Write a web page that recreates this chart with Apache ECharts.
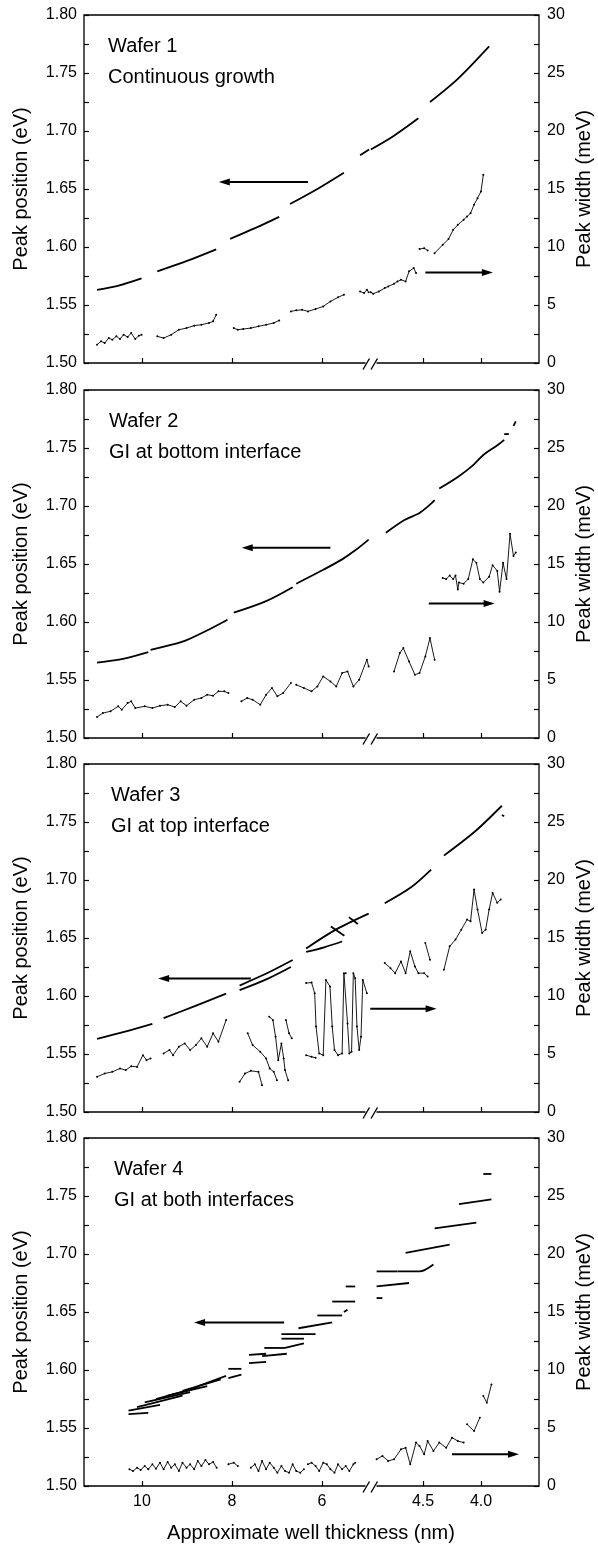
<!DOCTYPE html>
<html>
<head>
<meta charset="utf-8">
<script src="https://cdn.jsdelivr.net/npm/echarts@6.0.0/dist/echarts.min.js"></script>
<style>
  html, body { margin: 0; padding: 0; background: #fff; }
  #chart { width: 598px; height: 1545px; }
</style>
</head>
<body>
<div id="chart"></div>
<script>
// tick labels
const xTicksLeft = [10, 8, 6]
const xTicksRight = [4.5, 4.0]
const eVLabels = [1.5, 1.55, 1.6, 1.65, 1.7, 1.75, 1.8]
const meVLabels = [0, 5, 10, 15, 20, 25, 30]

const waferNames = ['Wafer 1', 'Wafer 2', 'Wafer 3', 'Wafer 4']
const waferNotes = ['Continuous growth', 'GI at bottom interface', 'GI at top interface', 'GI at both interfaces']

// segments of [thickness nm, peak position eV]
const wafer1Pos = [
  [[11.00, 1.563], [10.50, 1.567], [10.01, 1.573]],
  [[9.66, 1.579], [9.00, 1.588], [8.35, 1.598]],
  [[8.04, 1.607], [7.50, 1.616], [6.95, 1.626]],
  [[6.71, 1.637], [6.10, 1.650], [5.51, 1.664]],
  [[5.15, 1.679], [4.95, 1.684]],
  [[4.95, 1.684], [4.75, 1.696], [4.54, 1.711]],
  [[4.44, 1.725], [4.20, 1.745], [3.93, 1.773]]
]
// segments of [thickness nm, peak width meV]
const wafer1Width = [
  [[11.00, 1.58], [10.91, 1.87], [10.83, 1.72], [10.74, 2.15], [10.66, 2.01], [10.57, 2.30], [10.49, 2.07], [10.41, 2.44], [10.32, 2.24], [10.24, 2.58], [10.15, 2.07], [10.07, 2.35], [10.01, 2.44]],
  [[9.66, 2.30], [9.52, 2.15], [9.35, 2.44], [9.18, 2.87], [9.01, 3.01], [8.84, 3.22], [8.68, 3.30], [8.51, 3.45], [8.42, 3.59], [8.35, 4.16]],
  [[7.96, 3.01], [7.87, 2.87], [7.75, 2.93], [7.58, 3.01], [7.41, 3.16], [7.24, 3.30], [7.07, 3.45], [6.95, 3.67]],
  [[6.69, 4.45], [6.57, 4.54], [6.44, 4.59], [6.31, 4.45], [6.14, 4.65], [5.97, 4.88], [5.81, 5.31], [5.64, 5.66], [5.51, 5.89]],
  [[5.15, 6.17], [5.06, 6.03], [5.00, 6.32], [4.96, 6.10]],
  [[4.95, 6.10], [4.93, 5.97], [4.88, 6.17], [4.83, 6.46], [4.80, 6.60], [4.75, 6.83], [4.72, 7.03], [4.69, 7.18], [4.65, 7.03], [4.62, 7.90], [4.58, 8.18], [4.56, 7.75]],
  [[4.53, 9.82], [4.49, 9.90], [4.46, 9.70]],
  [[4.40, 9.47], [4.33, 10.19], [4.28, 10.68], [4.24, 11.48], [4.20, 11.91], [4.15, 12.35], [4.12, 12.63], [4.09, 12.92], [4.06, 13.64], [4.03, 14.21], [4.00, 14.79], [3.98, 16.22]]
]

const wafer2Pos = [
  [[11.00, 1.565], [10.45, 1.568], [9.86, 1.574]],
  [[9.81, 1.576], [9.10, 1.583], [8.59, 1.592], [8.10, 1.602]],
  [[7.96, 1.608], [7.24, 1.618], [6.65, 1.630]],
  [[6.57, 1.633], [5.97, 1.645], [5.55, 1.654], [5.25, 1.662], [4.96, 1.671]],
  [[4.82, 1.677], [4.66, 1.688], [4.53, 1.694], [4.43, 1.702], [4.40, 1.705]],
  [[4.36, 1.715], [4.20, 1.725], [4.07, 1.735], [3.98, 1.744], [3.85, 1.753], [3.80, 1.757]],
  [[3.80, 1.762], [3.76, 1.762]],
  [[3.72, 1.769], [3.70, 1.773]]
]
const wafer2Width = [
  [[11.00, 1.81], [10.87, 2.15], [10.70, 2.30], [10.53, 2.73], [10.45, 2.44], [10.32, 3.01], [10.24, 3.16], [10.15, 2.58], [9.94, 2.73], [9.77, 2.58], [9.60, 2.78], [9.43, 2.87], [9.27, 2.67], [9.14, 3.16], [9.01, 2.78], [8.84, 3.30], [8.68, 3.45], [8.55, 3.73], [8.42, 3.64], [8.30, 4.02], [8.17, 4.02], [8.08, 3.88]],
  [[7.79, 3.16], [7.66, 3.45], [7.54, 3.30], [7.37, 2.87], [7.24, 3.73], [7.11, 4.31], [6.99, 3.59], [6.86, 3.88], [6.69, 4.74]],
  [[6.57, 4.59], [6.40, 4.31], [6.23, 4.02], [6.10, 4.45], [5.97, 5.31], [5.81, 4.88], [5.68, 4.45], [5.55, 5.60], [5.43, 5.74], [5.30, 4.45], [5.17, 5.02], [5.00, 6.75], [4.96, 6.17]],
  [[4.75, 5.74], [4.70, 7.32], [4.67, 7.75], [4.62, 6.60], [4.57, 5.45], [4.53, 5.60], [4.48, 7.03], [4.44, 8.61], [4.40, 6.75]],
  [[4.33, 13.8], [4.30, 13.7], [4.27, 14.0], [4.24, 13.7], [4.22, 14.0], [4.20, 12.8], [4.19, 13.4], [4.15, 13.3], [4.11, 13.7], [4.07, 15.4], [4.04, 15.1], [4.01, 13.7], [3.98, 13.4], [3.93, 13.9], [3.90, 14.9], [3.86, 14.4], [3.84, 12.6], [3.81, 15.1], [3.78, 13.7], [3.75, 17.6], [3.72, 15.7], [3.70, 16.0]]
]

const wafer3Pos = [
  [[11.00, 1.563], [10.40, 1.569], [9.77, 1.576]],
  [[9.52, 1.581], [8.84, 1.591], [8.13, 1.602]],
  [[7.83, 1.609], [7.20, 1.620], [6.65, 1.631]],
  [[7.83, 1.605], [7.20, 1.615], [6.69, 1.625]],
  [[6.35, 1.641], [5.70, 1.657], [4.96, 1.671]],
  [[6.35, 1.638], [5.95, 1.642], [5.55, 1.647]],
  [[5.80, 1.660], [5.50, 1.652]],
  [[5.40, 1.668], [5.20, 1.662]],
  [[4.83, 1.680], [4.60, 1.694], [4.43, 1.709]],
  [[4.32, 1.721], [4.05, 1.742], [3.82, 1.764]],
  [[3.82, 1.756], [3.80, 1.755]]
]
const wafer3Width = [
  [[11.00, 3.03], [10.83, 3.32], [10.66, 3.46], [10.49, 3.75], [10.36, 3.61], [10.24, 3.95], [10.11, 3.89], [9.98, 4.90], [9.90, 4.47], [9.81, 4.62]],
  [[9.52, 5.05], [9.39, 5.34], [9.31, 4.90], [9.18, 5.63], [9.05, 5.91], [8.93, 5.34], [8.80, 5.77], [8.68, 6.35], [8.55, 5.63], [8.42, 6.78], [8.30, 6.06], [8.13, 7.93]],
  [[7.83, 2.60], [7.71, 3.32], [7.58, 3.55], [7.41, 3.46], [7.33, 2.31]],
  [[7.65, 6.78], [7.54, 5.77], [7.37, 5.19], [7.24, 4.62], [7.16, 3.75], [7.07, 3.46], [7.00, 2.74]],
  [[7.17, 8.22], [7.09, 7.93], [7.03, 6.49], [6.97, 4.47], [6.90, 5.91], [6.85, 4.62], [6.82, 3.61], [6.75, 2.74]],
  [[6.80, 7.93], [6.73, 6.78], [6.67, 6.35]],
  [[6.35, 4.90], [6.23, 4.76], [6.14, 4.67]],
  [[6.35, 11.11], [6.23, 11.16], [6.16, 10.24], [6.13, 7.36], [6.06, 5.05], [5.97, 4.90], [5.91, 11.39], [5.82, 10.82], [5.77, 7.36], [5.72, 5.34], [5.64, 4.90], [5.55, 5.05], [5.51, 11.97], [5.47, 11.97], [5.43, 7.64], [5.39, 5.05], [5.34, 5.19], [5.30, 11.97], [5.26, 11.54], [5.22, 7.36], [5.17, 5.34], [5.13, 6.49], [5.09, 11.39], [5.00, 10.24]],
  [[4.83, 12.84], [4.78, 12.40], [4.74, 11.97], [4.69, 12.98], [4.65, 11.97], [4.61, 13.85], [4.57, 12.55], [4.54, 11.97], [4.49, 11.97], [4.46, 11.68]],
  [[4.48, 14.57], [4.44, 13.13]],
  [[4.32, 12.26], [4.27, 14.28], [4.22, 14.86], [4.17, 15.72], [4.12, 16.59], [4.09, 16.44], [4.06, 19.18], [4.03, 17.45], [3.99, 15.43], [3.96, 15.72], [3.93, 17.45], [3.90, 18.89], [3.86, 18.03], [3.83, 18.32]]
]

const wafer4Pos = [
  [[10.30, 1.562], [9.86, 1.563]],
  [[10.30, 1.565], [9.60, 1.570]],
  [[10.11, 1.568], [9.10, 1.578]],
  [[9.94, 1.572], [8.93, 1.581]],
  [[9.69, 1.575], [8.76, 1.585]],
  [[9.43, 1.578], [8.55, 1.586]],
  [[9.10, 1.582], [8.25, 1.592]],
  [[8.76, 1.586], [8.13, 1.595]],
  [[8.08, 1.601], [7.79, 1.601]],
  [[8.08, 1.593], [7.79, 1.596]],
  [[7.62, 1.613], [7.24, 1.614]],
  [[7.62, 1.606], [7.24, 1.607]],
  [[7.33, 1.612], [6.78, 1.614]],
  [[7.28, 1.619], [6.82, 1.619]],
  [[6.82, 1.619], [6.40, 1.623]],
  [[6.90, 1.627], [6.40, 1.627]],
  [[6.90, 1.631], [6.14, 1.631]],
  [[6.52, 1.636], [5.77, 1.641]],
  [[6.10, 1.647], [5.55, 1.647]],
  [[5.51, 1.650], [5.43, 1.652]],
  [[5.77, 1.659], [5.26, 1.659]],
  [[5.47, 1.672], [5.26, 1.672]],
  [[4.90, 1.662], [4.85, 1.662]],
  [[4.90, 1.672], [4.62, 1.675]],
  [[4.90, 1.685], [4.72, 1.685]],
  [[4.72, 1.685], [4.53, 1.685], [4.41, 1.691]],
  [[4.65, 1.701], [4.27, 1.708]],
  [[4.40, 1.722], [4.04, 1.727]],
  [[4.19, 1.743], [3.91, 1.747]],
  [[3.98, 1.769], [3.91, 1.769]]
]
const wafer4Width = [
  [[10.28, 1.44], [10.20, 1.29], [10.11, 1.58], [10.03, 1.38], [9.94, 1.72], [9.86, 1.44], [9.77, 1.87], [9.69, 1.49], [9.60, 2.01], [9.52, 1.44], [9.43, 2.07], [9.35, 1.58], [9.27, 1.87], [9.18, 1.29], [9.10, 2.01], [9.01, 1.58], [8.93, 1.87], [8.84, 1.44], [8.76, 2.16], [8.68, 1.72], [8.59, 2.24], [8.51, 1.87], [8.42, 2.07], [8.34, 1.58]],
  [[8.08, 1.87], [7.96, 2.01], [7.87, 1.72]],
  [[7.58, 1.58], [7.49, 1.87], [7.41, 1.29], [7.33, 2.16], [7.24, 1.44], [7.16, 2.01], [7.07, 1.58], [6.99, 1.15], [6.90, 1.72], [6.82, 1.29], [6.73, 1.15], [6.65, 1.87], [6.57, 1.29], [6.48, 1.15], [6.40, 1.44]],
  [[6.31, 1.87], [6.23, 2.01], [6.14, 1.72], [6.06, 1.29], [5.97, 2.01], [5.89, 1.87], [5.81, 1.44], [5.72, 1.15], [5.64, 1.87], [5.55, 1.44], [5.47, 1.72], [5.39, 1.29], [5.30, 1.87], [5.26, 2.01]],
  [[4.90, 2.30], [4.85, 2.59], [4.80, 2.16], [4.75, 2.30], [4.69, 3.16], [4.65, 3.30], [4.61, 1.87], [4.56, 3.74], [4.53, 3.45], [4.49, 2.73], [4.46, 3.88], [4.41, 3.02], [4.36, 3.74], [4.30, 3.30], [4.25, 4.17], [4.20, 3.88], [4.15, 3.74]],
  [[4.12, 5.32], [4.06, 4.74], [4.01, 5.89]],
  [[3.98, 7.76], [3.95, 7.18], [3.91, 8.76]]
]

// arrows: [tail thickness, head thickness, level]
const posArrows = [[6.31, 8.17, 1.656], [5.81, 7.66, 1.664], [7.58, 9.52, 1.615], [6.84, 8.72, 1.641]]
const widthArrows = [[4.48, 3.945, 7.8], [4.45, 3.93, 11.6], [4.955, 4.43, 8.9], [4.25, 3.72, 2.73]]

const wafers = [
  { pos: wafer1Pos, width: wafer1Width },
  { pos: wafer2Pos, width: wafer2Width },
  { pos: wafer3Pos, width: wafer3Width },
  { pos: wafer4Pos, width: wafer4Width }
]

const FONT = '"Liberation Sans", Arial, Helvetica, sans-serif'
const panelTops = [15, 390, 764, 1138]
const plotLeft = 84, breakX = 370, plotRight = 539, plotH = 348
const leftRange = [4.93, 11.29], rightRange = [3.5, 4.957]
const BREAK_T = 4.95

const grid = [], xAxis = [], yAxis = [], series = [], graphic = []

const tickStyle = { color: '#000', width: 1.2 }
const labelStyle = { color: '#000', fontSize: 16, fontFamily: FONT }

function hiddenAxis(gridIndex, min, max) {
  return { type: 'value', gridIndex, show: false, min, max }
}

wafers.forEach((w, p) => {
  const top = panelTops[p]
  const gF = grid.length
  grid.push({ left: plotLeft, top, width: plotRight - plotLeft, height: plotH, show: true,
    borderColor: '#000', borderWidth: 1.3, backgroundColor: 'transparent', outerBoundsMode: 'none' })
  grid.push({ left: plotLeft, top, width: breakX - plotLeft, height: plotH, outerBoundsMode: 'none' })
  grid.push({ left: breakX, top, width: plotRight - breakX, height: plotH, outerBoundsMode: 'none' })
  const gL = gF + 1, gR = gF + 2

  xAxis.push(hiddenAxis(gF, 0, 1))
  yAxis.push(hiddenAxis(gF, 0, 1))

  const xL = xAxis.length
  xAxis.push({
    type: 'value', gridIndex: gL, min: leftRange[0], max: leftRange[1], inverse: true,
    axisLine: { show: false }, splitLine: { show: false },
    axisTick: { show: true, inside: true, length: 5, customValues: xTicksLeft, lineStyle: tickStyle },
    axisLabel: Object.assign({ show: p === 3, customValues: xTicksLeft, margin: 8, formatter: v => String(v) }, labelStyle)
  })
  const xR = xAxis.length
  xAxis.push({
    type: 'value', gridIndex: gR, min: rightRange[0], max: rightRange[1], inverse: true,
    axisLine: { show: false }, splitLine: { show: false },
    axisTick: { show: true, inside: true, length: 5, customValues: xTicksRight, lineStyle: tickStyle },
    axisLabel: Object.assign({ show: p === 3, customValues: xTicksRight, margin: 8, formatter: v => v.toFixed(1) }, labelStyle)
  })

  const yLe = yAxis.length
  yAxis.push({
    type: 'value', gridIndex: gL, position: 'left', min: 1.5, max: 1.8, interval: 0.025,
    axisLine: { show: false }, splitLine: { show: false },
    axisTick: { show: true, inside: true, length: 5, lineStyle: tickStyle },
    axisLabel: Object.assign({ customValues: eVLabels, margin: 7, formatter: v => v.toFixed(2) }, labelStyle),
    name: 'Peak position (eV)', nameLocation: 'middle', nameGap: 53, nameRotate: 90, nameMoveOverlap: false,
    nameTextStyle: { color: '#000', fontSize: 20, fontFamily: FONT }
  })
  const yLm = yAxis.length
  yAxis.push(hiddenAxis(gL, 0, 30))
  const yRe = yAxis.length
  yAxis.push(hiddenAxis(gR, 1.5, 1.8))
  const yRm = yAxis.length
  yAxis.push({
    type: 'value', gridIndex: gR, position: 'right', min: 0, max: 30, interval: 2.5,
    axisLine: { show: false }, splitLine: { show: false },
    axisTick: { show: true, inside: true, length: 5, lineStyle: tickStyle },
    axisLabel: Object.assign({ customValues: meVLabels, margin: 8, formatter: v => String(v) }, labelStyle),
    name: 'Peak width (meV)', nameLocation: 'middle', nameGap: 35, nameRotate: 90, nameMoveOverlap: false,
    nameTextStyle: { color: '#000', fontSize: 20, fontFamily: FONT }
  })

  const addSegs = (segs, isPos) => {
    segs.forEach(seg => {
      const right = seg[0][0] <= BREAK_T
      series.push({
        type: 'line', silent: true, smooth: isPos ? 0.3 : false,
        showSymbol: !isPos, symbol: 'circle', symbolSize: 2,
        itemStyle: { color: '#000' },
        xAxisIndex: right ? xR : xL,
        yAxisIndex: isPos ? (right ? yRe : yLe) : (right ? yRm : yLm),
        data: seg,
        lineStyle: { color: '#000', width: isPos ? 1.8 : 0.9 }
      })
    })
  }
  addSegs(w.pos, true)
  addSegs(w.width, false)

  // arrows pointing to the axis each curve belongs to
  const arrow = (a, xi, yi, rot) => {
    series.push({
      type: 'line', silent: true, xAxisIndex: xi, yAxisIndex: yi, symbol: 'none', showSymbol: true,
      data: [[a[0], a[2]], { value: [a[1], a[2]], symbol: 'triangle', symbolSize: [7, 11], symbolRotate: rot }],
      lineStyle: { color: '#000', width: 2 }, itemStyle: { color: '#000' }
    })
  }
  arrow(posArrows[p], xL, yLe, 90)
  arrow(widthArrows[p], xR, yRm, -90)

  graphic.push({ type: 'text', x: [108, 109, 111, 114][p], y: top + 31,
    style: { text: waferNames[p], font: '20px ' + FONT, fill: '#000', verticalAlign: 'middle', textVerticalAlign: 'middle' } })
  graphic.push({ type: 'text', x: [108, 109, 111, 114][p], y: top + 62,
    style: { text: waferNotes[p], font: '20px ' + FONT, fill: '#000', verticalAlign: 'middle', textVerticalAlign: 'middle' } })

  // axis break mark
  const b = top + plotH
  graphic.push({ type: 'rect', shape: { x: 365.5, y: b - 2, width: 11, height: 4 }, style: { fill: '#fff' }, z: 100 })
  graphic.push({ type: 'line', shape: { x1: 363, y1: b + 6.5, x2: 369.5, y2: b - 4.5 }, style: { stroke: '#000', lineWidth: 1.4 }, z: 101 })
  graphic.push({ type: 'line', shape: { x1: 371, y1: b + 6.5, x2: 377.5, y2: b - 4.5 }, style: { stroke: '#000', lineWidth: 1.4 }, z: 101 })
})

graphic.push({ type: 'text', x: 311, y: 1533,
  style: { text: 'Approximate well thickness (nm)', font: '20px ' + FONT, fill: '#000',
    align: 'center', textAlign: 'center', verticalAlign: 'middle', textVerticalAlign: 'middle' } })

const chart = echarts.init(document.getElementById('chart'))
chart.setOption({
  animation: false,
  backgroundColor: '#fff',
  grid, xAxis, yAxis, series, graphic
})
</script>
</body>
</html>
